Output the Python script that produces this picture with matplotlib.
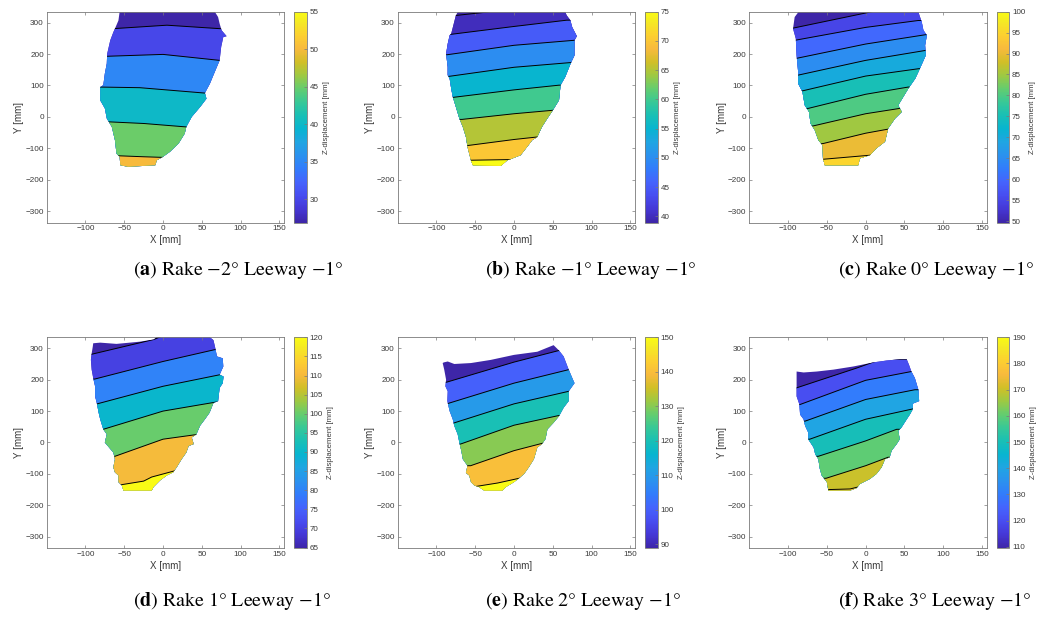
import numpy as np
import matplotlib.pyplot as plt
from matplotlib.colors import LinearSegmentedColormap, Normalize
from matplotlib.patches import Polygon
from matplotlib.cm import ScalarMappable

plt.rcParams['font.family'] = ['Liberation Sans', 'DejaVu Sans']
plt.rcParams['mathtext.fontset'] = 'stix'

# MATLAB parula key colours
parula_pos = np.array([1, 5, 9, 13, 17, 21, 25, 29, 33, 37, 41, 45, 49, 53, 57, 61, 64]) - 1
parula_rgb = [
    (0.2422, 0.1504, 0.6603), (0.2706, 0.2147, 0.8364), (0.2813, 0.3006, 0.9414),
    (0.2699, 0.3892, 0.9906), (0.1963, 0.4847, 0.9892), (0.1687, 0.5703, 0.9359),
    (0.1248, 0.6459, 0.8883), (0.0297, 0.7082, 0.8163), (0.0964, 0.7500, 0.7120),
    (0.2161, 0.7843, 0.5923), (0.3909, 0.8029, 0.4354), (0.6174, 0.7876, 0.2612),
    (0.8203, 0.7498, 0.1535), (0.9728, 0.7298, 0.2394), (0.9892, 0.8136, 0.1885),
    (0.9597, 0.9135, 0.1423), (0.9769, 0.9839, 0.0805)]
parula = LinearSegmentedColormap.from_list('parula', list(zip(parula_pos / 63.0, parula_rgb)))

# ---- data ----
# (a) Rake -2
a_outline = [(-56, 345), (-56, 334), (-57.5, 307), (-62, 281), (-64, 270), (-68, 244), (-72, 201),
             (-72.5, 170), (-75, 138), (-77, 101), (-81, 95), (-81, 53), (-75, 27), (-72.5, -5),
             (-66, -32), (-62, -74), (-60, -117), (-56, -127), (-55, -154), (-45, -159), (-10, -154),
             (-8, -138), (0, -127), (9, -111), (20, -85), (28, -53), (30, -32), (37, 0), (48, 32),
             (56, 58), (54, 76), (60.5, 106), (65, 133), (73, 180), (75, 223), (77.7, 254), (82, 257),
             (75.5, 276), (73, 297), (71, 318), (67, 334), (67, 345)]
a_levels = [30, 35, 40, 45, 50]
a_lines = [[(-64, 281), (5, 292), (73, 281)],
           [(-72.5, 193), (0, 199), (73, 180)],
           [(-81, 95), (-30, 93), (53, 76)],
           [(-68, -16), (-25, -21), (30, -32)],
           [(-56, -124), (-25, -127), (0, -129)]]
a_clim = (26.9, 55)
a_ticks = [30, 35, 40, 45, 50, 55]

# (b) Rake -1
b_outline = [(-72.6, 345), (-72.6, 334), (-75, 323), (-81, 265), (-83, 260), (-85.5, 233), (-87.6, 201),
             (-85.5, 159), (-85.5, 133), (-83, 122), (-81, 90), (-79, 64), (-75, 32), (-70.5, -5),
             (-66, -32), (-62, -64), (-60, -95), (-55.6, -138), (-53, -154), (-17, -156), (-8.5, -138),
             (-6, -136), (8.5, -122), (17, -95), (23.5, -74), (30, -64), (36, -32), (43, -5), (50, 21),
             (58, 53), (60, 101), (66, 127), (73, 170), (78, 196), (78, 244), (81, 257), (75, 286),
             (72.6, 308), (68, 323), (66, 334), (66, 345)]
b_levels = [40, 45, 50, 55, 60, 65, 70, 75]
b_lines = [[(-75, 323), (-34, 334), (0, 350)],
           [(-81, 263), (0, 288), (68, 308)],
           [(-86, 198), (0, 228), (78, 244)],
           [(-84, 129), (0, 158), (73, 173)],
           [(-79, 62), (0, 86), (58, 101)],
           [(-67, -8), (0, 10), (50, 21)],
           [(-59, -91), (0, -72), (30, -64)],
           [(-55, -138), (-6, -136)]]
b_clim = (38.9, 75)
b_ticks = [40, 45, 50, 55, 60, 65, 70, 75]

# (c) Rake 0
c_outline = [(-86, 345), (-86, 336), (-91.5, 318), (-93.6, 281), (-90, 249), (-89, 196), (-87, 143),
             (-87, 106), (-81.5, 80), (-78.5, 37), (-73, 16), (-71, -21), (-65.6, -42), (-61, -74),
             (-55.6, -90), (-55, -132), (-52.6, -154), (-9.6, -154), (-7.4, -132), (5.6, -122),
             (14, -100), (25, -79), (29, -37), (38, -5), (46.6, 16), (42, 37), (55, 90), (64, 122),
             (70, 154), (77.6, 196), (76.7, 228), (79, 260), (74.5, 276), (72.4, 302), (68, 334), (68, 345)]
c_levels = [55, 60, 65, 70, 75, 80, 85, 90, 95]
c_lines = [[(-93, 283), (12, 337), (40, 350)],
           [(-91, 244), (0, 285), (68, 307)],
           [(-90, 186), (0, 232), (78, 262)],
           [(-87, 133), (0, 180), (78, 212)],
           [(-83, 82), (0, 130), (70, 154)],
           [(-74, 27), (0, 72), (55, 95)],
           [(-68, -29), (0, 10), (44, 27)],
           [(-55, -85), (0, -52), (29, -39)],
           [(-55, -135), (6, -122)]]
c_clim = (49.6, 100)
c_ticks = [50, 55, 60, 65, 70, 75, 80, 85, 90, 95, 100]

# (d) Rake 1
d_outline = [(-90, 316), (-81, 318), (-60, 314), (-30, 321), (-12, 328), (-4, 345), (60.5, 345),
             (60.5, 335), (65, 326), (67, 305), (69.5, 274), (77, 268), (77.7, 242), (73, 216), (78, 210),
             (77, 189), (73, 174), (71, 132), (65, 126), (60, 95), (54, 74), (47.6, 53), (43, 26), (37, 16),
             (39.5, -5), (33, -11), (30, -32), (24, -53), (17.6, -79), (13, -95), (4.7, -105), (-4, -121),
             (-12.4, -142), (-14.6, -153), (-51, -153), (-53, -137), (-57.5, -126), (-57.5, -105),
             (-62, -95), (-64, -79), (-62, -53), (-64, -32), (-75, 0), (-72.5, 26), (-77, 42), (-81, 74),
             (-83, 95), (-85.4, 126), (-87.6, 147), (-87.6, 179), (-90, 205), (-92, 232), (-93, 263),
             (-92, 284), (-90.6, 305)]
d_levels = [70, 80, 90, 100, 110, 120]
d_lines = [[(-92, 281), (-12, 328), (0, 340)],
           [(-88, 202), (0, 258), (69, 297)],
           [(-85, 123), (0, 179), (77.7, 218)],
           [(-77, 42), (0, 100), (69, 129)],
           [(-62, -44), (0, 10.5), (45.5, 26)],
           [(-55, -135), (-25, -123), (-14.6, -110), (17, -89)]]
d_clim = (64.8, 120)
d_ticks = [65, 70, 75, 80, 85, 90, 95, 100, 105, 110, 115, 120]

# (e) Rake 2
e_outline = [(-92, 253), (-90.6, 255), (-85.5, 258), (-77, 250), (-55.5, 253), (-30, 263), (0, 279),
             (30, 289), (51, 310), (58, 293), (64, 274), (70.5, 232), (76, 200), (78, 189), (70.5, 163),
             (70.5, 132), (64, 111), (58, 84), (51, 63), (43, 42), (40.6, 11), (36, -5), (30, -16),
             (25.6, -53), (19, -79), (13, -100), (6.4, -114), (0, -126), (-10.7, -142), (-15, -153),
             (-38.5, -153), (-45, -142), (-51, -137), (-55.5, -126), (-57.7, -105), (-62, -97), (-60, -74),
             (-66, -53), (-68, -26), (-70.5, 0), (-72.6, 26), (-77, 53), (-79, 74), (-83, 100), (-86, 132),
             (-85.5, 163), (-88.5, 179), (-87.6, 200), (-90, 232)]
e_levels = [100, 110, 120, 130, 140, 150]
e_lines = [[(-87, 192), (0, 256), (58, 293)],
           [(-85.5, 124), (0, 189), (70.5, 232)],
           [(-79, 61), (0, 123), (70.5, 163)],
           [(-69, -5), (0, 55), (58, 86)],
           [(-56, -74), (0, -26), (40.6, 0)],
           [(-49, -140), (-21, -129), (8.5, -113)]]
e_clim = (88.8, 150)
e_ticks = [90, 100, 110, 120, 130, 140, 150]

# (f) Rake 3
f_outline = [(-89, 226), (-80, 223), (-63, 226), (-41.6, 232), (-16, 242), (10, 255), (27, 261), (44, 265),
             (53, 265), (56, 247), (59, 226), (63.5, 205), (68, 168), (69, 132), (61, 124), (61, 107),
             (57, 89), (53, 74), (46, 47), (42, 37), (44, 10.5), (40, -5), (33.5, -26), (31, -47), (25, -53),
             (20.6, -79), (14, -100), (5.6, -116), (-7.3, -132), (-11.6, -145), (-20, -153), (-48, -153),
             (-50, -126), (-56.6, -105), (-59, -84), (-61, -53), (-65, -37), (-67, -16), (-74, 10.5),
             (-74, 32), (-78, 53), (-80, 74), (-84.5, 89), (-85.4, 121), (-89, 147), (-89, 179)]
f_levels = [120, 130, 140, 150, 160, 170, 180]
f_lines = [[(-89, 174), (-11.6, 237), (20, 265)],
           [(-84.5, 121), (0, 198), (59, 226)],
           [(-78, 68), (0, 137), (63.5, 168)],
           [(-72, 10.5), (0, 74), (61, 107)],
           [(-61, -44), (0, 5), (40, 42)],
           [(-51, -114), (0, -74), (29, -47)],
           [(-48, -150), (-20, -148), (-7, -140), (5, -130)]]
f_clim = (109.4, 190)
f_ticks = [110, 120, 130, 140, 150, 160, 170, 180, 190]

letters = ['a', 'b', 'c', 'd', 'e', 'f']
rakes = ['\u22122', '\u22121', '0', '1', '2', '3']
leeway = '\u22121'

panels = [(a_outline, a_levels, a_lines, a_clim, a_ticks),
          (b_outline, b_levels, b_lines, b_clim, b_ticks),
          (c_outline, c_levels, c_lines, c_clim, c_ticks),
          (d_outline, d_levels, d_lines, d_clim, d_ticks),
          (e_outline, e_levels, e_lines, e_clim, e_ticks),
          (f_outline, f_levels, f_lines, f_clim, f_ticks)]

W, H = 1051, 618
fig = plt.figure(figsize=(W / 100, H / 100), dpi=100)

col_left = [46.7, 397.7, 749.3]
row_top = [11.7, 337.3]
ax_w, ax_h = 237.3, 211.0
cb_off, cb_w = 247.5, 12.5
cap_x = [133, 485, 838]
cap_y = [270, 601]

frame = '#7a7a7a'
txt = '#3a3a3a'

for k, (outline, levels, lines, clim, cticks) in enumerate(panels):
    r, c = divmod(k, 3)
    x0 = col_left[c]
    y0 = row_top[r]
    ax = fig.add_axes([x0 / W, 1 - (y0 + ax_h) / H, ax_w / W, ax_h / H])
    cax = fig.add_axes([(x0 + cb_off) / W, 1 - (y0 + ax_h) / H, cb_w / W, ax_h / H])

    norm = Normalize(*clim)
    clip = Polygon(outline, closed=True, transform=ax.transData, fc='none', ec='none')

    base = Polygon(outline, closed=True, fc=parula(0.0), ec='none')
    ax.add_patch(base)
    for lev, pts in zip(levels, lines):
        xs = [p[0] for p in pts]
        ys = [p[1] for p in pts]
        ext_x = [xs[0] - 400] + xs + [xs[-1] + 400]
        ext_y = [ys[0]] + ys + [ys[-1]]
        region = list(zip(ext_x, ext_y)) + [(xs[-1] + 400, -1000), (xs[0] - 400, -1000)]
        band = Polygon(region, closed=True, fc=parula(norm(lev)), ec='none')
        ax.add_patch(band)
        band.set_clip_path(clip)
        ln, = ax.plot(ext_x, ext_y, color='black', lw=0.7)
        ln.set_clip_path(clip)

    ax.set_xlim(-150, 156)
    ax.set_ylim(-337, 335)
    ax.set_xticks([-100, -50, 0, 50, 100, 150])
    ax.set_yticks([-300, -200, -100, 0, 100, 200, 300])
    ax.tick_params(direction='in', top=True, right=True, length=2.5, width=0.5,
                   color=frame, labelcolor=txt, labelsize=5.9, pad=2)
    for s in ax.spines.values():
        s.set_color(frame)
        s.set_linewidth(0.6)
    ax.set_xlabel('X [mm]', fontsize=7, color=txt, labelpad=2)
    ax.set_ylabel('Y [mm]', fontsize=7, color=txt, labelpad=1)

    sm = ScalarMappable(norm=norm, cmap=parula)
    cb = fig.colorbar(sm, cax=cax, ticks=cticks)
    cb.outline.set_edgecolor(frame)
    cb.outline.set_linewidth(0.6)
    cax.tick_params(direction='in', length=2, width=0.5, color=frame,
                    labelcolor=txt, labelsize=5.8, pad=2)
    cb.set_label('Z-displacement [mm]', fontsize=5.6, color=txt, labelpad=3)

    fig.text(cap_x[c] / W, 1 - cap_y[r] / H,
             r'($\mathbf{' + letters[k] + r'}$) Rake ' + rakes[k] + '\u00b0 Leeway ' + leeway + '\u00b0',
             family='STIXGeneral', fontsize=14.3, ha='left', va='center', color='black')

fig.savefig('out.png', dpi=100)
